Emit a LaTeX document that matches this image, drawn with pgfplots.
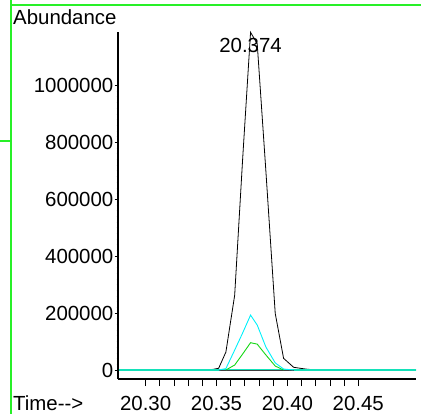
\documentclass[border=0pt]{standalone}
\usepackage{fontspec}
\setmainfont{Liberation Sans}
\usepackage{pgfplots}
\pgfplotsset{compat=1.18}

\definecolor{frame}{RGB}{40,240,40}
\definecolor{ioncyan}{RGB}{0,240,250}
\definecolor{iongreen}{RGB}{20,215,20}
\definecolor{baseteal}{RGB}{20,225,185}

\newcommand{\bigfont}{\fontsize{20.5}{24}\selectfont}

\pgfplotsset{
  chromframe/.style={
    at={(118bp,35bp)}, anchor=south west,
    scale only axis,
    width=298bp, height=346.7bp,
    xmin=20.2805, xmax=20.4907,
    ymin=-31600, ymax=1187000,
    axis line style={line width=1.2bp},
    tick align=outside,
    tick style={black, line width=0.8bp},
    scaled ticks=false,
    /pgf/number format/assume math mode=true,
    /pgf/number format/1000 sep={},
    /pgf/number format/fixed,
    tick label style={font=\bigfont},
  }
}

\begin{document}
\begin{tikzpicture}
  \useasboundingbox (0,0) rectangle (421bp,414bp);

  % time axis and traces
  \begin{axis}[
    chromframe,
    axis x line*=bottom,
    axis y line=none,
    xtick={20.30,20.35,20.40,20.45},
    minor x tick num=4,
    major tick length=7bp,
    minor tick length=7bp,
    xticklabel style={/pgf/number format/fixed zerofill,
      /pgf/number format/precision=2, anchor=base, inner sep=0pt, yshift=-24bp},
    clip=false,
  ]
    % total ion trace
    \addplot[black, line width=0.8bp] coordinates {
      (20.2805,0) (20.3450,0) (20.3515,6000) (20.3566,63000) (20.3628,263000)
      (20.3684,740000) (20.3740,1187000) (20.3787,1147000) (20.3848,700000)
      (20.3914,199000) (20.3973,41000) (20.4044,9500) (20.4126,3500)
      (20.4200,0) (20.4907,0)
    };
    % baseline of the ion traces
    \addplot[baseteal, line width=1.2bp] coordinates {(20.2805,0) (20.4907,0)};
    \addplot[black!75, line width=1bp] coordinates {(20.3515,0) (20.4044,0)};
    % ion traces
    \addplot[iongreen, line width=0.9bp] coordinates {
      (20.3566,0) (20.3628,17500) (20.3684,56000) (20.3740,96000) (20.3787,91000)
      (20.3848,53000) (20.3914,14000) (20.3973,0)
    };
    \addplot[ioncyan, line width=0.9bp] coordinates {
      (20.3515,0) (20.3566,5000) (20.3628,70000) (20.3684,130000) (20.3740,193000)
      (20.3787,158000) (20.3848,81000) (20.3914,25000) (20.3973,3500) (20.4044,0)
    };
    \node[font=\bigfont, anchor=base, inner sep=0pt, yshift=-20bp]
      at (axis cs:20.374,1187000) {20.374};
  \end{axis}

  % abundance axis
  \begin{axis}[
    chromframe,
    axis x line=none,
    axis y line*=left,
    ytick={0,200000,400000,600000,800000,1000000},
    minor y tick num=9,
    major tick length=3.5bp,
    minor tick length=1.5bp,
    yticklabel style={/pgf/number format/precision=0,
      anchor=east, inner sep=0pt, xshift=-1bp},
  ]
  \end{axis}

  % labels outside the axis
  \node[font=\bigfont, anchor=base west, inner sep=0pt] at (13bp,389bp) {Abundance};
  \node[font=\bigfont, anchor=base west, inner sep=0pt] at (13bp,4bp) {Time-{}-{}>};

  % green frame
  \draw[frame, line width=2bp] (11bp,0) -- (11bp,414bp);
  \draw[frame, line width=2bp] (11bp,409bp) -- (421bp,409bp);
  \draw[frame, line width=1.5bp] (0,273bp) -- (11bp,273bp);
\end{tikzpicture}
\end{document}
